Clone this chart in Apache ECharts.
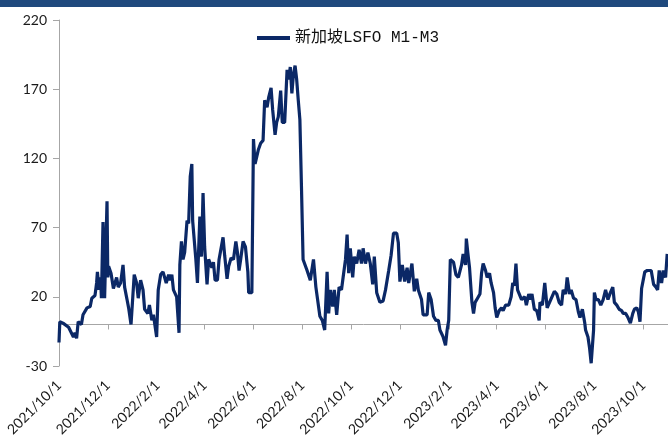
<!DOCTYPE html>
<html>
<head>
<meta charset="utf-8">
<script src="https://cdn.jsdelivr.net/npm/echarts@6/dist/echarts.min.js"></script>
<style>
  html, body { margin: 0; padding: 0; background: #fff; }
  #main { width: 668px; height: 440px; }
</style>
</head>
<body>
<div id="main"></div>
<script>
// 新加坡LSFO M1-M3 价差，读图估值
const dates = [
  '2021-10-01','2021-10-02','2021-10-06','2021-10-13','2021-10-19','2021-10-21','2021-10-23','2021-10-25','2021-10-29','2021-10-31',
  '2021-11-05','2021-11-09','2021-11-11','2021-11-15','2021-11-17','2021-11-18','2021-11-20','2021-11-22','2021-11-23','2021-11-25',
  '2021-11-26','2021-11-27','2021-11-30','2021-12-01','2021-12-02','2021-12-05','2021-12-08','2021-12-12','2021-12-14','2021-12-17',
  '2021-12-20','2021-12-22','2021-12-25','2021-12-27','2021-12-30','2022-01-03','2022-01-06','2022-01-08','2022-01-11','2022-01-14',
  '2022-01-16','2022-01-20','2022-01-22','2022-01-25','2022-01-27','2022-01-31','2022-02-02','2022-02-05','2022-02-08','2022-02-12',
  '2022-02-15','2022-02-17','2022-02-19','2022-02-21','2022-02-25','2022-02-28','2022-03-01','2022-03-03','2022-03-05','2022-03-07',
  '2022-03-10','2022-03-12','2022-03-14','2022-03-16','2022-03-17','2022-03-21','2022-03-23','2022-03-26','2022-03-28','2022-03-30',
  '2022-04-01','2022-04-04','2022-04-06','2022-04-10','2022-04-12','2022-04-14','2022-04-17','2022-04-19','2022-04-21','2022-04-24',
  '2022-04-26','2022-04-29','2022-05-01','2022-05-04','2022-05-07','2022-05-10','2022-05-12','2022-05-14','2022-05-16','2022-05-19',
  '2022-05-22','2022-05-25','2022-05-26','2022-05-30','2022-06-01','2022-06-03','2022-06-05','2022-06-07','2022-06-10','2022-06-13',
  '2022-06-15','2022-06-18','2022-06-20','2022-06-23','2022-06-25','2022-06-28','2022-06-30','2022-07-02','2022-07-05','2022-07-07',
  '2022-07-10','2022-07-13','2022-07-15','2022-07-17','2022-07-19','2022-07-21','2022-07-23','2022-07-25','2022-07-27','2022-07-29',
  '2022-07-31','2022-08-02','2022-08-07','2022-08-11','2022-08-15','2022-08-18','2022-08-23','2022-08-26','2022-08-29','2022-09-01',
  '2022-09-03','2022-09-05','2022-09-08','2022-09-10','2022-09-13','2022-09-16','2022-09-19','2022-09-21','2022-09-24','2022-09-26',
  '2022-09-28','2022-09-30','2022-10-03','2022-10-05','2022-10-08','2022-10-11','2022-10-14','2022-10-16','2022-10-19','2022-10-22',
  '2022-10-25','2022-10-28','2022-10-30','2022-11-02','2022-11-06','2022-11-10','2022-11-13','2022-11-17','2022-11-20','2022-11-23',
  '2022-11-27','2022-11-29','2022-12-01','2022-12-04','2022-12-07','2022-12-10','2022-12-12','2022-12-16','2022-12-19','2022-12-22',
  '2022-12-24','2022-12-28','2022-12-30','2023-01-04','2023-01-06','2023-01-09','2023-01-12','2023-01-15','2023-01-18','2023-01-20',
  '2023-01-24','2023-01-27','2023-01-29','2023-01-31','2023-02-02','2023-02-06','2023-02-09','2023-02-12','2023-02-16','2023-02-18',
  '2023-02-21','2023-02-22','2023-02-24','2023-02-26','2023-03-01','2023-03-03','2023-03-05','2023-03-08','2023-03-11','2023-03-13',
  '2023-03-15','2023-03-18','2023-03-20','2023-03-23','2023-03-25','2023-03-28','2023-03-30','2023-04-01','2023-04-04','2023-04-07',
  '2023-04-09','2023-04-12','2023-04-16','2023-04-19','2023-04-21','2023-04-23','2023-04-25','2023-04-27','2023-04-29','2023-05-02',
  '2023-05-06','2023-05-08','2023-05-11','2023-05-13','2023-05-15','2023-05-18','2023-05-21','2023-05-24','2023-05-25','2023-05-28',
  '2023-05-31','2023-06-03','2023-06-06','2023-06-09','2023-06-12','2023-06-15','2023-06-18','2023-06-21','2023-06-23','2023-06-26',
  '2023-06-28','2023-07-01','2023-07-03','2023-07-06','2023-07-09','2023-07-12','2023-07-14','2023-07-17','2023-07-20','2023-07-21',
  '2023-07-24','2023-07-26','2023-07-28','2023-07-30','2023-07-31','2023-08-01','2023-08-03','2023-08-06','2023-08-09','2023-08-12',
  '2023-08-15','2023-08-18','2023-08-21','2023-08-24','2023-08-26','2023-08-29','2023-09-01','2023-09-04','2023-09-06','2023-09-09',
  '2023-09-12','2023-09-15','2023-09-18','2023-09-20','2023-09-23','2023-09-25','2023-09-27','2023-09-29','2023-10-03','2023-10-06',
  '2023-10-08','2023-10-11','2023-10-14','2023-10-17','2023-10-19','2023-10-21','2023-10-24','2023-10-26','2023-10-29','2023-10-31'
]
const spread = [
  -13, 2, 1, -2, -9, -6, -10, 2, 0, 7,
  12, 13, 19, 21, 30, 38, 25, 34, 19, 74,
  73, 19, 89, 34, 42, 37, 26, 34, 27, 30,
  43, 27, 18, 12, 0, 36, 30, 19, 32, 25,
  11, 8, 14, 3, 7, -9, 25, 36, 38, 30,
  36, 32, 36, 25, 20, -6, 43, 60, 47, 52,
  75, 73, 107, 116, 75, 47, 30, 78, 49, 95,
  56, 29, 47, 41, 45, 32, 32, 47, 47, 63,
  50, 33, 42, 48, 47, 60, 52, 39, 47, 60,
  56, 38, 23, 23, 134, 116, 121, 126, 131, 133,
  162, 157, 164, 171, 155, 137, 146, 150, 169, 146,
  146, 184, 177, 186, 167, 181, 187, 177, 162, 148,
  99, 47, 39, 32, 47, 27, 6, 3, -4, 38,
  8, 25, 13, 25, 7, 27, 25, 34, 47, 65,
  37, 55, 34, 49, 44, 54, 44, 55, 44, 52,
  44, 29, 49, 23, 16, 17, 25, 39, 50, 66,
  66, 59, 31, 43, 31, 41, 30, 44, 24, 33,
  25, 18, 7, 7, 23, 18, 6, 3, 3, -4,
  -9, -15, -4, 3, 47, 45, 36, 34, 43, 51,
  43, 62, 51, 41, 16, 8, 16, 19, 22, 37,
  44, 39, 34, 37, 30, 23, 12, 5, 10, 12,
  10, 14, 14, 20, 30, 28, 44, 25, 26, 18,
  20, 14, 22, 18, 22, 11, 10, 3, 16, 14,
  30, 12, 16, 20, 24, 22, 16, 14, 25, 22,
  34, 22, 25, 19, 18, 9, 5, 11, 1, -4,
  -9, -17, -28, -27, -4, 23, 18, 18, 14, 18,
  25, 18, 23, 27, 16, 14, 11, 10, 8, 8,
  5, 1, 8, 11, 12, 9, 2, 26, 38, 39,
  38, 39, 29, 27, 25, 39, 30, 39, 34, 51
]
const tickDates = ['2021-10-01','2021-12-01','2022-02-01','2022-04-01','2022-06-01','2022-08-01',
  '2022-10-01','2022-12-01','2023-02-01','2023-04-01','2023-06-01','2023-08-01','2023-10-01']
const xMin = '2021-10-01'
const xMax = '2023-11-01'
const yMin = -30
const yMax = 220
const yStep = 50

const seriesName = '新加坡LSFO M1-M3'
const lineColor = '#0b2866'
const axisColor = '#a6a6a6'
const labelFont = 'Lato, "Liberation Sans", sans-serif'

// 日期字符串 -> 时间戳（本地时间）
function ts (s) {
  const p = s.split('-').map(Number)
  return new Date(p[0], p[1] - 1, p[2]).getTime()
}
function fmtDate (v) {
  const d = new Date(v)
  return d.getFullYear() + '/' + (d.getMonth() + 1) + '/' + d.getDate()
}

const tickValues = tickDates.map(ts)

const chart = echarts.init(document.getElementById('main'), null, { renderer: 'canvas' })
const option = {
  backgroundColor: '#fff',
  animation: false,
  graphic: [
    { type: 'rect', left: 0, top: 0, shape: { width: 668, height: 7 }, style: { fill: '#1f497d' } }
  ],
  legend: {
    data: [seriesName],
    left: 252,
    top: 25,
    icon: 'rect',
    itemWidth: 33,
    itemHeight: 4,
    itemGap: 6,
    textStyle: {
      fontFamily: '"Liberation Mono", "Noto Sans CJK SC", monospace',
      fontSize: 16,
      color: '#111'
    }
  },
  grid: {
    left: 59,
    right: 0,
    top: 20,
    bottom: 74,
    containLabel: false
  },
  xAxis: [
    {
      type: 'value',
      min: ts(xMin),
      max: ts(xMax),
      axisLine: { show: true, onZero: true, lineStyle: { color: axisColor, width: 1 } },
      axisTick: { show: true, length: 5, lineStyle: { color: axisColor }, customValues: tickValues },
      axisLabel: { show: false },
      splitLine: { show: false }
    },
    {
      type: 'value',
      position: 'bottom',
      min: ts(xMin),
      max: ts(xMax),
      axisLine: { show: false, onZero: false },
      axisTick: { show: false },
      splitLine: { show: false },
      axisLabel: {
        show: true,
        rotate: 45,
        margin: 17,
        fontSize: 14,
        color: '#1a1a1a',
        fontFamily: labelFont,
        customValues: tickValues,
        formatter: fmtDate
      }
    }
  ],
  yAxis: {
    type: 'value',
    min: yMin,
    max: yMax,
    interval: yStep,
    axisLine: { show: true, lineStyle: { color: axisColor, width: 1 } },
    axisTick: { show: true, length: 6, lineStyle: { color: axisColor } },
    axisLabel: { margin: 12, fontSize: 14, color: '#1a1a1a', fontFamily: labelFont },
    splitLine: { show: false }
  },
  series: [
    {
      name: seriesName,
      type: 'line',
      xAxisIndex: 0,
      data: dates.map((d, i) => [ts(d), spread[i]]),
      showSymbol: false,
      symbol: 'none',
      lineStyle: { color: lineColor, width: 3.2 },
      itemStyle: { color: lineColor }
    }
  ]
}
chart.setOption(option)
</script>
</body>
</html>
